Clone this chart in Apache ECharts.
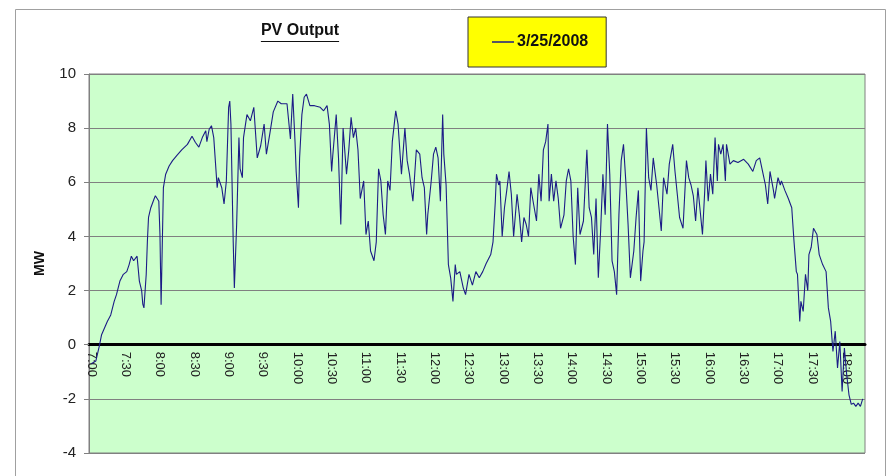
<!DOCTYPE html>
<html>
<head>
<meta charset="utf-8">
<script src="https://cdn.jsdelivr.net/npm/echarts@6/dist/echarts.min.js"></script>
<style>
html,body{margin:0;padding:0;background:#fff;}
#c{width:892px;height:476px;}
</style>
</head>
<body>
<div id="c"></div>
<script>
// minutes after 7:00
var tMin = [0,4,7,9,14,17,20,22,25,28,31,33,35,37,40,42,44,45,46,48,49,50,52,55,56,59,60,61,63,65,68,71,75,79,84,88,91,94,97,100,101,103,105,107,110,111,114,116,118,120,121,122,124,125,127,129,130,132,133,136,139,142,145,148,151,153,156,159,163,166,171,174,176,178,179,181,182,184,186,188,191,195,200,203,206,208,210,211,214,216,218,220,223,225,227,229,231,233,235,238,240,242,244,247,249,251,253,255,257,259,261,263,266,268,271,274,276,278,281,284,287,289,291,293,294,297,299,301,303,305,307,308,310,312,314,316,318,319,322,325,327,330,333,336,339,342,345,349,351,353,354,356,357,359,361,363,365,367,369,372,374,376,378,380,382,384,386,389,391,393,395,397,399,400,402,404,406,408,410,413,415,417,419,421,423,425,427,430,433,435,437,439,441,443,445,447,449,451,453,455,457,459,461,463,465,467,469,471,474,476,478,480,482,483,485,487,489,491,494,496,498,500,503,505,508,510,512,514,517,520,522,524,526,528,530,532,534,536,537,539,541,543,545,547,548,550,552,554,555,558,561,565,570,574,578,581,584,587,589,591,593,596,597,600,602,603,606,609,612,614,616,617,619,620,622,624,626,627,629,631,634,636,639,642,644,646,648,650,652,654,656,658,660,662,664,666,668,670,672,674];
var mw = [-0.7,-0.6,-0.05,0.37,0.86,1.1,1.6,1.85,2.35,2.6,2.7,2.95,3.27,3.1,3.27,2.35,2.0,1.5,1.36,2.6,3.8,4.7,5.06,5.4,5.5,5.3,4.07,1.48,5.8,6.3,6.6,6.8,7.0,7.2,7.4,7.7,7.47,7.3,7.65,7.9,7.5,7.96,8.09,7.65,5.8,6.17,5.8,5.2,6.05,8.77,9.0,8.15,3.8,2.1,4.44,7.65,6.5,6.17,7.65,8.5,8.27,8.77,6.9,7.35,8.15,7.04,7.8,8.6,9.0,8.9,8.9,7.6,9.26,7.5,6.4,5.06,6.9,8.5,9.14,9.26,8.83,8.83,8.77,8.64,8.83,8.15,6.4,7.0,8.5,6.9,4.44,8.0,6.3,7.2,8.4,7.65,8.0,7.2,5.4,6.05,4.07,4.57,3.46,3.1,3.8,6.5,6.05,4.8,4.07,6.05,5.7,7.5,8.64,8.15,6.3,8.0,6.8,6.3,5.3,7.2,7.04,6.17,5.8,4.07,4.8,6.05,7.04,7.3,6.9,5.3,8.5,7.04,5.9,2.96,2.47,1.6,2.96,2.6,2.7,2.1,1.85,2.6,2.2,2.7,2.47,2.7,3.0,3.33,3.8,5.3,6.3,5.9,6.05,4.0,5.06,5.7,6.4,5.56,4.0,5.56,4.8,3.8,4.7,4.44,4.0,5.8,5.3,4.57,6.3,5.3,7.2,7.5,8.15,5.3,6.3,5.3,6.05,5.4,4.3,4.8,6.05,6.5,6.05,4.0,2.96,5.8,4.07,4.57,7.2,5.06,4.7,3.33,5.4,2.47,4.2,6.3,4.8,8.15,6.3,3.1,2.7,1.85,4.8,6.8,7.4,6.05,4.44,2.47,3.46,4.7,5.7,2.35,3.46,3.8,8.0,6.17,5.7,6.9,5.9,5.06,4.2,6.17,5.56,6.67,7.4,6.4,5.56,4.7,4.3,6.8,6.17,5.9,5.5,4.57,5.8,4.94,4.07,5.7,6.8,5.3,6.3,5.56,7.65,6.05,7.4,7.04,7.4,6.05,7.4,6.67,6.8,6.73,6.85,6.67,6.4,6.8,6.9,6.3,5.9,5.2,6.4,5.7,5.4,6.17,5.9,6.05,5.7,5.4,5.06,3.8,2.7,2.6,0.86,1.6,1.23,2.6,2.0,3.33,3.6,4.3,4.07,3.33,2.96,2.7,1.36,0.86,-0.25,0.5,-0.86,0.12,-1.73,-0.12,-1.1,-1.85,-2.2,-2.16,-2.28,-2.16,-2.28,-2.0];
var tickLabels = ["7:00","7:30","8:00","8:30","9:00","9:30","10:00","10:30","11:00","11:30","12:00","12:30","13:00","13:30","14:00","14:30","15:00","15:30","16:00","16:30","17:00","17:30","18:00"];
var seriesName = "3/25/2008";
var titleText = "PV Output";

var tickMinutes = tickLabels.map(function(s){var p=s.split(':');return (parseInt(p[0])-7)*60+parseInt(p[1]);});
var labelMap = {};
tickMinutes.forEach(function(m,i){labelMap[m]=tickLabels[i];});
var pts = tMin.map(function(t,i){return [t, mw[i]];});

var FONT = '"Liberation Sans", Arial, sans-serif';
var cv = document.createElement('canvas').getContext('2d');
cv.font = 'bold 16px ' + FONT;
var tw = cv.measureText(titleText).width;
var tcx = 300;

var gridTop = 74, gridBottom = 23, H = 476;
var plotH = H - gridTop - gridBottom;
var yMin = -4, yMax = 10;
var zeroOffset = -plotH * (0 - yMin) / (yMax - yMin);

var chart = echarts.init(document.getElementById('c'), null, {renderer:'canvas'});
chart.setOption({
  backgroundColor: '#ffffff',
  animation: false,
  textStyle: {fontFamily: FONT},
  grid: {left: 89, right: 27, top: gridTop, bottom: gridBottom, show: true, backgroundColor: '#ccffcc', borderColor: '#808080', borderWidth: 1},
  legend: {
    left: 468, top: 17,
    backgroundColor: '#ffff00', borderColor: '#333333', borderWidth: 1,
    padding: [17, 18, 17, 24],
    icon: 'rect', itemWidth: 22, itemHeight: 1.5, itemGap: 0,
    textStyle: {fontFamily: FONT, fontWeight: 'bold', fontSize: 16, color: '#111', padding: [0,0,0,-2]},
    data: [seriesName]
  },
  graphic: [
    {type: 'rect', shape: {x: 15.5, y: 9.5, width: 870, height: 470}, style: {fill: 'none', stroke: '#a0a0a0', lineWidth: 1}, silent: true, z: -1},
    {type: 'text', x: tcx, y: 31, style: {text: titleText, font: 'bold 16px ' + FONT, fill: '#111', textAlign: 'center', textVerticalAlign: 'middle'}},
    {type: 'line', shape: {x1: tcx - tw/2, y1: 41.5, x2: tcx + tw/2, y2: 41.5}, style: {stroke: '#111', lineWidth: 1}}
  ],
  xAxis: {
    type: 'value', min: -2, max: 676, position: 'bottom', offset: zeroOffset,
    axisLine: {onZero: false, lineStyle: {color: '#000', width: 3}},
    axisTick: {show: false},
    splitLine: {show: false},
    axisLabel: {
      customValues: tickMinutes, rotate: -90, fontSize: 13, color: '#222', margin: 7, fontFamily: FONT,
      formatter: function(v){return labelMap[v] || '';}
    }
  },
  yAxis: {
    type: 'value', min: yMin, max: yMax, interval: 2,
    name: 'MW', nameLocation: 'middle', nameGap: 42, nameRotate: 90,
    nameTextStyle: {fontWeight: 'bold', fontSize: 14, color: '#111', fontFamily: FONT},
    axisLine: {show: true, onZero: false, lineStyle: {color: '#808080', width: 1}},
    axisTick: {show: true, length: 5, lineStyle: {color: '#808080'}},
    axisLabel: {fontSize: 15, color: '#222', margin: 13, fontFamily: FONT},
    splitLine: {show: true, lineStyle: {color: '#808080', width: 1}}
  },
  series: [{
    name: seriesName, type: 'line', data: pts, showSymbol: false, symbol: 'none',
    lineStyle: {color: '#1c1c86', width: 1.1}, itemStyle: {color: '#1c1c86'}, z: 3
  }]
});
</script>
</body>
</html>
